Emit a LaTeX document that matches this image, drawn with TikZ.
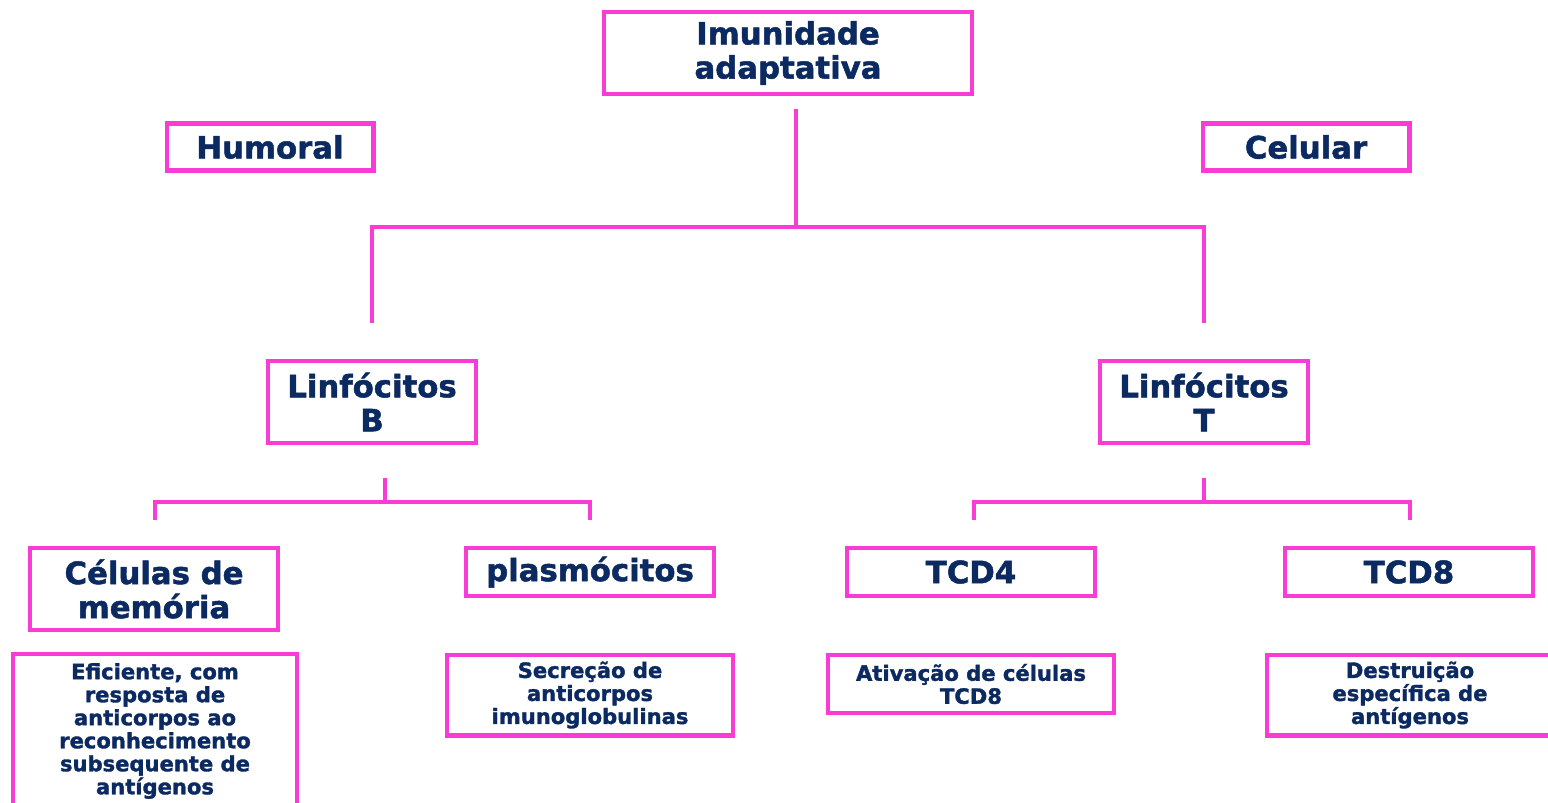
\documentclass[tikz,border=0pt]{standalone}
\usepackage{fontspec}
\setmainfont{DejaVu Sans}[BoldFeatures={FakeBold=1.6}]
\usetikzlibrary{calc}
\definecolor{rosa}{HTML}{FA3CD6}
\definecolor{azul}{HTML}{0C2A62}
\tikzset{
	caixa/.style={draw=rosa, line width=2.3pt, fill=white, text=azul, align=center, inner sep=0pt,
		font=\bfseries\fontsize{17.5}{19.4}\selectfont},
	nota/.style={caixa, font=\bfseries\fontsize{12}{13.1}\selectfont},
	ramo/.style={draw=rosa, line width=2.6pt},
}

\begin{document}
\begin{tikzpicture}[x=0.02cm,y=-0.02cm]
		\clip (0,0) rectangle (1548,802);
		\fill[white] (0,0) rectangle (1548,802);
		% niveis de cima
		\node[caixa, minimum width=7.36cm, minimum height=1.64cm] (imun) at (788,53) {Imunidade\\adaptativa};
		\node[caixa, minimum width=4.14cm, minimum height=0.94cm] (humoral) at (270,147) {Humoral};
		\node[caixa, minimum width=4.14cm, minimum height=0.94cm] (celular) at (1306,147) {Celular};
		\node[caixa, minimum width=4.16cm, minimum height=1.64cm] (linfB) at (372,402) {Linfócitos\\B};
		\node[caixa, minimum width=4.16cm, minimum height=1.64cm] (linfT) at (1204,402) {Linfócitos\\T};
		% celulas
		\node[caixa, minimum width=4.96cm, minimum height=1.64cm] (mem) at (154,589) {Células de\\memória};
		\node[caixa, minimum width=4.96cm, minimum height=0.96cm] (plasm) at (590,572) {plasmócitos};
		\node[caixa, minimum width=4.96cm, minimum height=0.96cm] (tcd4) at (971,572) {TCD4};
		\node[caixa, minimum width=4.96cm, minimum height=0.96cm] (tcd8) at (1409,572) {TCD8};
		% funcoes
		\node[nota, minimum width=5.7cm, minimum height=3.1cm] (efic) at (155,731) {Eficiente, com\\resposta de\\anticorpos ao\\reconhecimento\\subsequente de\\antígenos};
		\node[nota, minimum width=5.72cm, minimum height=1.62cm] (secr) at (590,695) {Secreção de\\anticorpos\\imunoglobulinas};
		\node[nota, minimum width=5.72cm, minimum height=1.16cm] (ativ) at (971,684) {Ativação de células\\TCD8};
		\node[nota, minimum width=5.72cm, minimum height=1.62cm] (destr) at (1410,695) {Destruição\\específica de\\antígenos};
		% ligacoes
		\draw[ramo] ($ (imun.south) + (8,13) $) coordinate (r0) -- ++(0,118) coordinate (r1);
		\draw[ramo] ($ (linfB.north) + (0,-36) $) |- (r1) -| ($ (linfT.north) + (0,-36) $);
		\draw[ramo] ($ (linfB.south) + (13,33) $) coordinate (b0) -- ++(0,24) coordinate (b1);
		\draw[ramo] ($ (mem.north) + (1,-26) $) |- (b1) -| ($ (plasm.north) + (0,-26) $);
		\draw[ramo] ($ (linfT.south) + (0,33) $) coordinate (t0) -- ++(0,24) coordinate (t1);
		\draw[ramo] ($ (tcd4.north) + (3,-26) $) |- (t1) -| ($ (tcd8.north) + (1,-26) $);
	\end{tikzpicture}
\end{document}
